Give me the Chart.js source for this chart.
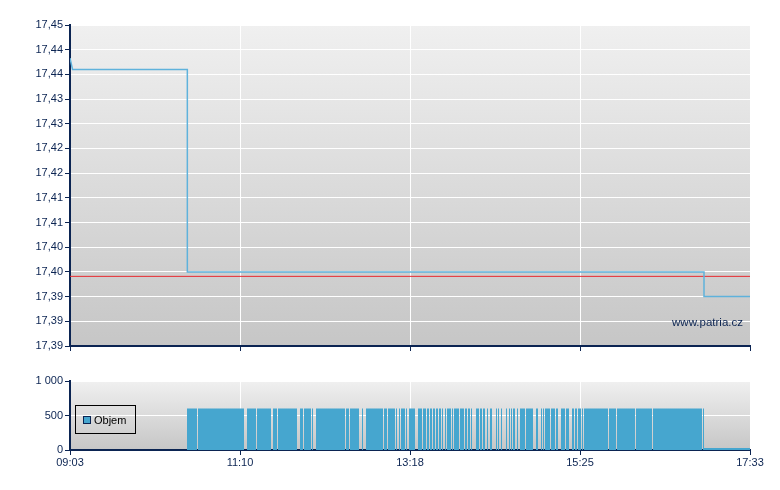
<!DOCTYPE html>
<html>
  <head>
    <title>Objem a cena</title>
    <script src="https://cdn.jsdelivr.net/npm/chart.js"></script>
    <style>
      body { margin: 0; background: #fff; }
      canvas { position: absolute; left: 0; }
    </style>
  </head>
  <body>
    <canvas id="priceChart" width="780" height="360" style="top:0"></canvas>
    <canvas id="volumeChart" width="780" height="130" style="top:360px"></canvas>

    <script>
      // minutes after 09:03
      const xTickMinutes = [0, 127.5, 255, 382.5, 510];
      const xTickLabels = ["09:03", "11:10", "13:18", "15:25", "17:33"];

      const priceTicks = [17.385, 17.39, 17.395, 17.4, 17.405, 17.41, 17.415, 17.42, 17.425, 17.43, 17.435, 17.44, 17.445, 17.45];
      const priceTickLabels = ["17,39", "17,39", "17,39", "17,40", "17,40", "17,41", "17,41", "17,42", "17,42", "17,43", "17,43", "17,44", "17,44", "17,45"];

      const priceMinutes = [0, 1.9, 88, 88, 475.5, 475.5, 510];
      const priceValues = [17.4433, 17.441, 17.441, 17.4, 17.4, 17.395, 17.395];
      const prevClose = 17.3991;

      const volTicks = [0, 500, 1000];
      const volTickLabels = ["0", "500", "1 000"];

      const volFrom = [87.75, 96, 132.75, 140.25, 152.25, 156, 172.5, 175.5, 181.5, 184.5, 207, 210, 219, 222, 235.5, 238.5, 244.5, 246.75, 248.25, 252, 254.25, 261, 264.75, 267.75, 270, 272.25, 274.5, 276.75, 279, 281.25, 282.75, 286.5, 288, 292.5, 296.25, 298.5, 300.75, 304.5, 307.5, 309.75, 312.75, 315, 319.5, 321, 323.25, 324.75, 327, 329.25, 330.75, 332.25, 335.25, 337.5, 342, 349.5, 353.25, 354.75, 356.25, 360.75, 364.5, 368.25, 372, 376.5, 378.75, 381, 384, 385.5, 404.25, 410.25, 424.5, 437.25, 474.75, 475.5];
      const volTo = [95.25, 130.5, 139.5, 150.75, 155.25, 170.25, 174.75, 180.75, 182.25, 206.25, 209.25, 216.75, 219.75, 234.75, 237.75, 243.75, 245.25, 247.5, 251.25, 252.75, 258.75, 264, 267, 269.25, 271.5, 273.75, 276, 278.25, 279.75, 282, 285.75, 287.25, 291.75, 295.5, 297.75, 300, 301.5, 306.75, 309, 311.25, 313.5, 316.5, 320.25, 321.75, 324, 325.5, 327.75, 330, 331.5, 333.75, 336, 341.25, 347.25, 351, 354, 355.5, 360, 363.75, 366, 371.25, 374.25, 378, 380.25, 383.25, 384.75, 403.5, 409.5, 423.75, 436.5, 474, 475.5, 510];
      const volAmount = [600, 600, 600, 600, 600, 600, 600, 600, 600, 600, 600, 600, 600, 600, 600, 600, 600, 600, 600, 600, 600, 600, 600, 600, 600, 600, 600, 600, 600, 600, 600, 600, 600, 600, 600, 600, 600, 600, 600, 600, 600, 600, 600, 600, 600, 600, 600, 600, 600, 600, 600, 600, 600, 600, 600, 600, 600, 600, 600, 600, 600, 600, 600, 600, 600, 600, 600, 600, 600, 600, 600, 30];

      const navy = "#0b2452";
      const font = { family: 'Arial, "Liberation Sans", sans-serif', size: 11 };
      Chart.defaults.font = font;
      Chart.defaults.color = navy;

      const panelBg = {
        id: "panelBg",
        beforeDraw(chart) {
          const a = chart.chartArea;
          const ctx = chart.ctx;
          const g = ctx.createLinearGradient(0, a.top, 0, a.bottom);
          g.addColorStop(0, "#f0f0f0");
          g.addColorStop(1, "#c6c6c6");
          ctx.save();
          ctx.fillStyle = g;
          ctx.fillRect(a.left, a.top, a.right - a.left, a.bottom - a.top);
          ctx.restore();
        },
      };

      function xScale(showLabels, height) {
        return {
          type: "linear",
          min: 0,
          max: 510,
          afterBuildTicks: (s) => { s.ticks = xTickMinutes.map((v) => ({ value: v })); },
          afterFit: (s) => { s.height = height; },
          ticks: { display: showLabels, autoSkip: false, maxRotation: 0, padding: 1, callback: (v, i) => xTickLabels[i] },
          grid: { color: (c) => (c.index === 0 ? "rgba(0,0,0,0)" : "#ffffff"), tickColor: navy, tickLength: 5 },
          border: { color: navy, width: 2 },
        };
      }

      function yScale(min, max, values, labels) {
        return {
          min: min,
          max: max,
          afterBuildTicks: (s) => { s.ticks = values.map((v) => ({ value: v })); },
          afterFit: (s) => { s.width = 70; },
          ticks: { autoSkip: false, padding: 2, callback: (v, i) => labels[i] },
          grid: { color: (c) => (c.index === 0 ? "rgba(0,0,0,0)" : "#ffffff"), tickColor: navy, tickLength: 5 },
          border: { color: navy, width: 2 },
        };
      }

      const watermark = {
        id: "watermark",
        afterDraw(chart) {
          const a = chart.chartArea;
          const ctx = chart.ctx;
          ctx.save();
          ctx.font = '11.5px Arial, "Liberation Sans", sans-serif';
          ctx.fillStyle = navy;
          ctx.textAlign = "right";
          ctx.textBaseline = "alphabetic";
          ctx.fillText("www.patria.cz", a.right - 7, a.bottom - 20);
          ctx.restore();
        },
      };

      new Chart(document.getElementById("priceChart"), {
        type: "line",
        data: {
          datasets: [
            {
              label: "Cena",
              data: priceMinutes.map((m, i) => ({ x: m, y: priceValues[i] })),
              borderColor: "#5fb2dc",
              borderWidth: 1.5,
              pointRadius: 0,
              tension: 0,
            },
            {
              label: "Předchozí",
              data: [{ x: 0, y: prevClose }, { x: 510, y: prevClose }],
              borderColor: "#e82a30",
              borderWidth: 1,
              pointRadius: 0,
            },
          ],
        },
        options: {
          responsive: false,
          animation: false,
          layout: { padding: { top: 25, right: 30, bottom: 9, left: 0 } },
          plugins: { legend: { display: false }, tooltip: { enabled: false } },
          scales: {
            x: xScale(false, 5),
            y: yScale(17.385, 17.45, priceTicks, priceTickLabels),
          },
        },
        plugins: [panelBg, watermark],
      });

      const volPoints = [];
      volFrom.forEach((f, i) => {
        volPoints.push({ x: f, y: 0 }, { x: f, y: volAmount[i] }, { x: volTo[i], y: volAmount[i] }, { x: volTo[i], y: 0 });
      });

      const legendBox = {
        id: "legendBox",
        afterDraw(chart) {
          const a = chart.chartArea;
          const ctx = chart.ctx;
          const ds = chart.data.datasets[0];
          ctx.save();
          ctx.strokeStyle = "#000";
          ctx.lineWidth = 1;
          ctx.strokeRect(a.left + 5.5, a.top + 24.5, 60, 28);
          ctx.fillStyle = ds.backgroundColor;
          ctx.fillRect(a.left + 13, a.top + 35, 8, 8);
          ctx.strokeStyle = navy;
          ctx.strokeRect(a.left + 13.5, a.top + 35.5, 7, 7);
          ctx.fillStyle = "#000";
          ctx.font = '11px Arial, "Liberation Sans", sans-serif';
          ctx.textBaseline = "middle";
          ctx.fillText(ds.label, a.left + 24, a.top + 39.5);
          ctx.restore();
        },
      };

      new Chart(document.getElementById("volumeChart"), {
        type: "line",
        data: {
          datasets: [
            {
              label: "Objem",
              data: volPoints,
              backgroundColor: "#46a6cf",
              borderColor: "rgba(0,0,0,0)",
              borderWidth: 0,
              fill: "origin",
              pointRadius: 0,
              tension: 0,
            },
          ],
        },
        options: {
          responsive: false,
          animation: false,
          layout: { padding: { top: 21, right: 30, bottom: 15, left: 0 } },
          plugins: { legend: { display: false }, tooltip: { enabled: false } },
          scales: {
            x: xScale(true, 25),
            y: yScale(0, 1000, volTicks, volTickLabels),
          },
        },
        plugins: [panelBg, legendBox],
      });
    </script>
  </body>
</html>
